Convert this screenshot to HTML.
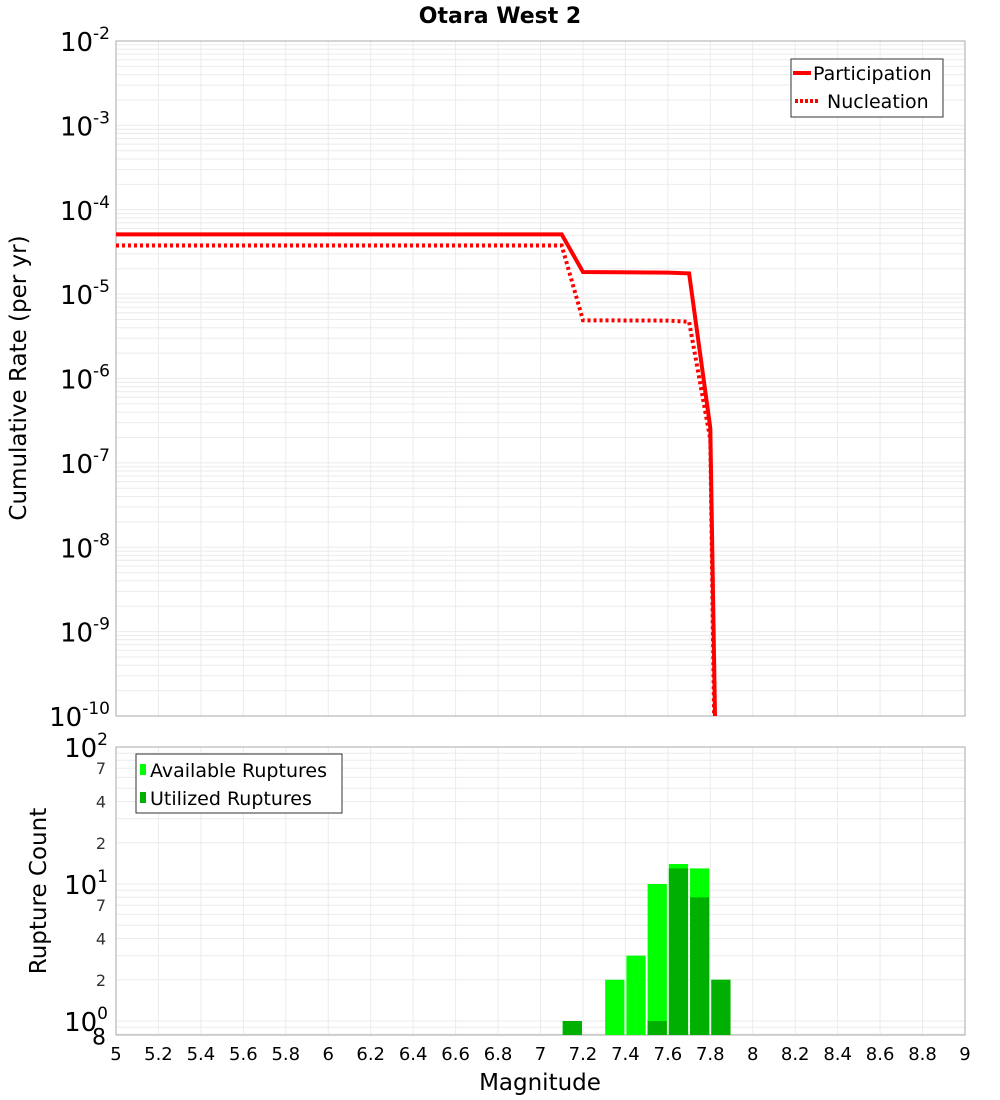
<!DOCTYPE html>
<html><head><meta charset="utf-8"><style>
html,body{margin:0;padding:0;background:#fff;overflow:hidden;width:1000px;height:1100px;}
svg{display:block;}
svg text{font-family:"DejaVu Sans","Liberation Sans",sans-serif;}
</style></head><body>
<svg id="chart" width="1000" height="1100" xmlns="http://www.w3.org/2000/svg">
<defs>
<clipPath id="topclip"><rect x="116" y="41" width="849" height="675"/></clipPath>
</defs>
<text x="500" y="23" text-anchor="middle" font-size="22" font-weight="bold">Otara West 2</text>
<g id="topgrid"></g><g id="botgrid"></g>
<rect x="116" y="41" width="849" height="675" fill="none" stroke="#aaa"/>
<rect x="116" y="747" width="849" height="288" fill="none" stroke="#aaa"/>
<g id="bars"></g>
<g id="lines" clip-path="url(#topclip)"></g>
<g id="axes"></g>
<text transform="translate(26,378) rotate(-90)" text-anchor="middle" font-size="23">Cumulative Rate (per yr)</text>
<text transform="translate(46,891) rotate(-90)" text-anchor="middle" font-size="23">Rupture Count</text>
<text x="540" y="1090" text-anchor="middle" font-size="23">Magnitude</text>
<g>
<rect x="791" y="59" width="152" height="58" fill="#fff" stroke="#333"/>
<line x1="793" y1="73" x2="811" y2="73" stroke="#f00" stroke-width="4"/>
<text x="813" y="80" font-size="19">Participation</text>
<line x1="795" y1="101" x2="820" y2="101" stroke="#f00" stroke-width="4" stroke-dasharray="3,2"/>
<text x="827" y="108" font-size="19">Nucleation</text>
</g>
<g>
<rect x="136" y="754" width="206" height="59" fill="#fff" stroke="#333"/>
<rect x="140" y="764" width="6" height="11" fill="#00ff00"/>
<text x="150" y="777" font-size="19">Available Ruptures</text>
<rect x="140" y="792" width="6" height="11" fill="#00b000"/>
<text x="150" y="805" font-size="19">Utilized Ruptures</text>
</g>
</svg>
<script>
const mags=[5,7.1,7.2,7.6,7.7,7.8,7.9];
const participation=[5.1e-5,5.1e-5,1.83e-5,1.8e-5,1.76e-5,2.6e-7,1e-22];
const nucleation=[3.77e-5,3.77e-5,4.9e-6,4.85e-6,4.7e-6,1.9e-7,1e-25];
const binStarts=[7.1,7.3,7.4,7.5,7.6,7.7,7.8];
const available=[1,2,3,10,14,13,2];
const utilized=[1,0,0,1,13,8,2];
const xTicks=[5,5.2,5.4,5.6,5.8,6,6.2,6.4,6.6,6.8,7,7.2,7.4,7.6,7.8,8,8.2,8.4,8.6,8.8,9];
const NS="http://www.w3.org/2000/svg";
function X(m){return 116+(m-5)*212.25;}
function YT(v){return 41+(-2-Math.log10(v))*84.375;}
function YB(v){return 884+(1-Math.log10(v))*137;}
function mk(p,t,a){const e=document.createElementNS(NS,t);for(const k in a)e.setAttribute(k,a[k]);p.appendChild(e);return e;}
const tg=document.getElementById('topgrid'),bg=document.getElementById('botgrid'),ax=document.getElementById('axes');
for(let d=-10;d<-2;d++)for(let k=1;k<10;k++){const y=YT(k*Math.pow(10,d));const l=mk(tg,'line',{x1:116,x2:965,y1:y,y2:y,stroke:'#ebebeb'});}
for(let d=-1;d<2;d++)for(let k=1;k<10;k++){const v=k*Math.pow(10,d);const y=YB(v);if(y<747||y>1035)continue;const l=mk(bg,'line',{x1:116,x2:965,y1:y,y2:y,stroke:'#ebebeb'});}
xTicks.forEach(m=>{const x=X(m);[[41,716],[747,1035]].forEach(r=>{const l=mk(tg,'line',{x1:x,x2:x,y1:r[0],y2:r[1],stroke:'#ebebeb'});});
const t=mk(ax,'text',{x:x,y:1060,'text-anchor':'middle','font-size':18});t.textContent=String(m);});
for(let d=-10;d<=-2;d++){const y=YT(Math.pow(10,d));const t=mk(ax,'text',{x:110,y:y+10,'text-anchor':'end','font-size':26});t.innerHTML='10<tspan dy="-12" font-size="17">'+d+'</tspan>';}
[[100,'2'],[10,'1'],[1,'0']].forEach(p=>{const y=YB(p[0]);const t=mk(ax,'text',{x:108,y:y+10,'text-anchor':'end','font-size':26});t.innerHTML='10<tspan dy="-12" font-size="17">'+p[1]+'</tspan>';});
[70,40,20,7,4,2,0.8].forEach(v=>{const y=YB(v);const t=mk(ax,'text',{x:106,y:y+6,'text-anchor':'end','font-size':16,fill:'#333'});t.textContent=String(v>=10?v/10:(v<1?v*10:v));if(v<1){t.setAttribute('font-size','22');t.setAttribute('fill','#000');t.setAttribute('y',y+10);}});
const bars=document.getElementById('bars');
binStarts.forEach((m,i)=>{const x0=X(m)+1,w=X(m+0.1)-X(m)-2;
if(available[i]>0){const y=YB(available[i]);const r=mk(bars,'rect',{x:x0,y:y,width:w,height:1035-y,fill:'#00ff00'});}
if(utilized[i]>0){const y=YB(utilized[i]);const r=mk(bars,'rect',{x:x0,y:y,width:w,height:1035-y,fill:'#00b000'});}});
const lg=document.getElementById('lines');
function line(vals,dash,name){const pts=mags.map((m,i)=>X(m).toFixed(1)+','+YT(vals[i]).toFixed(1)).join(' ');const p=mk(lg,'polyline',{points:pts,fill:'none',stroke:'#f00','stroke-width':4});if(dash)p.setAttribute('stroke-dasharray','3,3');}
line(participation,false,'participation-line');
line(nucleation,true,'nucleation-line');
</script>
</body></html>
